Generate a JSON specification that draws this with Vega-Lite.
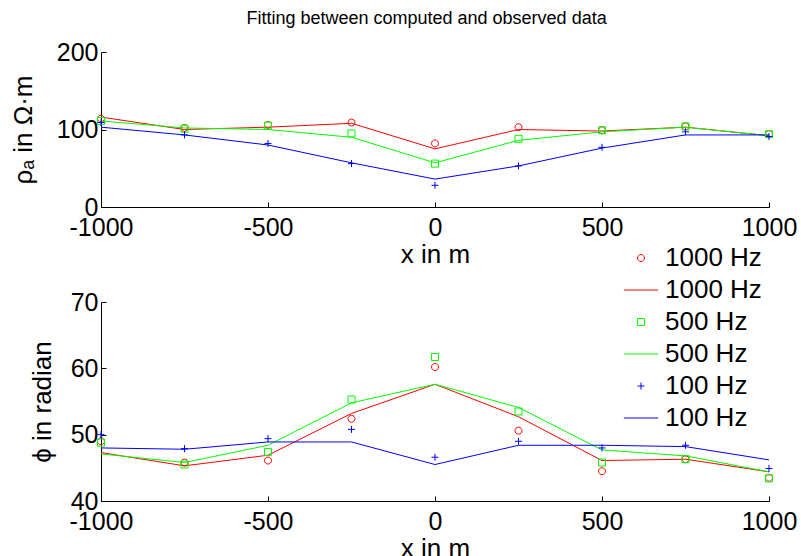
{
  "$schema": "https://vega.github.io/schema/vega-lite/v6.json",
  "padding": {"left": 10, "top": 10, "right": 5, "bottom": 5},
  "background": "white",
  "title": {"text": "Fitting between computed and observed data", "font": "Liberation Sans", "fontSize": 18, "fontWeight": "normal", "color": "#000", "anchor": "middle", "offset": 12, "dx": 23},
  "config": {
    "view": {"stroke": null},
    "axis": {"domainColor": "#000", "tickColor": "#000", "labelFont": "Liberation Sans", "labelFontSize": 25, "labelColor": "#000", "titleFont": "Liberation Sans", "titleFontSize": 26, "titleFontWeight": "normal", "titleColor": "#000", "grid": false, "tickSize": -5, "labelPadding": 13, "labelFlush": false},
    "legend": {"orient": "none", "legendX": 527, "legendY": 193, "title": null, "labelFont": "Liberation Sans", "labelFontSize": 26, "labelColor": "#000", "symbolSize": 49, "symbolStrokeWidth": 1, "padding": 0, "rowPadding": 6, "labelOffset": 11}
  },
  "datasets": {
    "rho": [
      {"x": -1000, "series": "o1000", "kind": "obs", "value": 114},
      {"x": -750, "series": "o1000", "kind": "obs", "value": 102},
      {"x": -500, "series": "o1000", "kind": "obs", "value": 106},
      {"x": -250, "series": "o1000", "kind": "obs", "value": 109},
      {"x": 0, "series": "o1000", "kind": "obs", "value": 82},
      {"x": 250, "series": "o1000", "kind": "obs", "value": 103},
      {"x": 500, "series": "o1000", "kind": "obs", "value": 99},
      {"x": 750, "series": "o1000", "kind": "obs", "value": 104},
      {"x": 1000, "series": "o1000", "kind": "obs", "value": 94},
      {"x": -1000, "series": "c1000", "kind": "comp", "value": 116},
      {"x": -750, "series": "c1000", "kind": "comp", "value": 100},
      {"x": -500, "series": "c1000", "kind": "comp", "value": 103},
      {"x": -250, "series": "c1000", "kind": "comp", "value": 108},
      {"x": 0, "series": "c1000", "kind": "comp", "value": 75},
      {"x": 250, "series": "c1000", "kind": "comp", "value": 100},
      {"x": 500, "series": "c1000", "kind": "comp", "value": 98},
      {"x": 750, "series": "c1000", "kind": "comp", "value": 103},
      {"x": 1000, "series": "c1000", "kind": "comp", "value": 92},
      {"x": -1000, "series": "o500", "kind": "obs", "value": 111},
      {"x": -750, "series": "o500", "kind": "obs", "value": 101},
      {"x": -500, "series": "o500", "kind": "obs", "value": 105},
      {"x": -250, "series": "o500", "kind": "obs", "value": 95},
      {"x": 0, "series": "o500", "kind": "obs", "value": 56},
      {"x": 250, "series": "o500", "kind": "obs", "value": 88},
      {"x": 500, "series": "o500", "kind": "obs", "value": 99},
      {"x": 750, "series": "o500", "kind": "obs", "value": 104},
      {"x": 1000, "series": "o500", "kind": "obs", "value": 94},
      {"x": -1000, "series": "c500", "kind": "comp", "value": 111},
      {"x": -750, "series": "c500", "kind": "comp", "value": 102},
      {"x": -500, "series": "c500", "kind": "comp", "value": 100},
      {"x": -250, "series": "c500", "kind": "comp", "value": 90},
      {"x": 0, "series": "c500", "kind": "comp", "value": 57},
      {"x": 250, "series": "c500", "kind": "comp", "value": 86},
      {"x": 500, "series": "c500", "kind": "comp", "value": 97},
      {"x": 750, "series": "c500", "kind": "comp", "value": 103},
      {"x": 1000, "series": "c500", "kind": "comp", "value": 92},
      {"x": -1000, "series": "o100", "kind": "obs", "value": 109},
      {"x": -750, "series": "o100", "kind": "obs", "value": 93},
      {"x": -500, "series": "o100", "kind": "obs", "value": 82},
      {"x": -250, "series": "o100", "kind": "obs", "value": 56},
      {"x": 0, "series": "o100", "kind": "obs", "value": 28},
      {"x": 250, "series": "o100", "kind": "obs", "value": 53},
      {"x": 500, "series": "o100", "kind": "obs", "value": 77},
      {"x": 750, "series": "o100", "kind": "obs", "value": 97},
      {"x": 1000, "series": "o100", "kind": "obs", "value": 91},
      {"x": -1000, "series": "c100", "kind": "comp", "value": 103},
      {"x": -750, "series": "c100", "kind": "comp", "value": 93},
      {"x": -500, "series": "c100", "kind": "comp", "value": 80},
      {"x": -250, "series": "c100", "kind": "comp", "value": 57},
      {"x": 0, "series": "c100", "kind": "comp", "value": 36},
      {"x": 250, "series": "c100", "kind": "comp", "value": 53},
      {"x": 500, "series": "c100", "kind": "comp", "value": 76},
      {"x": 750, "series": "c100", "kind": "comp", "value": 93},
      {"x": 1000, "series": "c100", "kind": "comp", "value": 93}
    ],
    "phi": [
      {"x": -1000, "series": "o1000", "kind": "obs", "value": 49.0},
      {"x": -750, "series": "o1000", "kind": "obs", "value": 45.8},
      {"x": -500, "series": "o1000", "kind": "obs", "value": 46.1},
      {"x": -250, "series": "o1000", "kind": "obs", "value": 52.4},
      {"x": 0, "series": "o1000", "kind": "obs", "value": 60.2},
      {"x": 250, "series": "o1000", "kind": "obs", "value": 50.6},
      {"x": 500, "series": "o1000", "kind": "obs", "value": 44.5},
      {"x": 750, "series": "o1000", "kind": "obs", "value": 46.3},
      {"x": 1000, "series": "o1000", "kind": "obs", "value": 43.5},
      {"x": -1000, "series": "c1000", "kind": "comp", "value": 47.3},
      {"x": -750, "series": "c1000", "kind": "comp", "value": 45.3},
      {"x": -500, "series": "c1000", "kind": "comp", "value": 46.9},
      {"x": -250, "series": "c1000", "kind": "comp", "value": 53.2},
      {"x": 0, "series": "c1000", "kind": "comp", "value": 57.6},
      {"x": 250, "series": "c1000", "kind": "comp", "value": 52.7},
      {"x": 500, "series": "c1000", "kind": "comp", "value": 46.1},
      {"x": 750, "series": "c1000", "kind": "comp", "value": 46.3},
      {"x": 1000, "series": "c1000", "kind": "comp", "value": 44.4},
      {"x": -1000, "series": "o500", "kind": "obs", "value": 48.8},
      {"x": -750, "series": "o500", "kind": "obs", "value": 45.5},
      {"x": -500, "series": "o500", "kind": "obs", "value": 47.4},
      {"x": -250, "series": "o500", "kind": "obs", "value": 55.3},
      {"x": 0, "series": "o500", "kind": "obs", "value": 61.7},
      {"x": 250, "series": "o500", "kind": "obs", "value": 53.5},
      {"x": 500, "series": "o500", "kind": "obs", "value": 45.8},
      {"x": 750, "series": "o500", "kind": "obs", "value": 46.3},
      {"x": 1000, "series": "o500", "kind": "obs", "value": 43.4},
      {"x": -1000, "series": "c500", "kind": "comp", "value": 47.1},
      {"x": -750, "series": "c500", "kind": "comp", "value": 45.8},
      {"x": -500, "series": "c500", "kind": "comp", "value": 48.4},
      {"x": -250, "series": "c500", "kind": "comp", "value": 54.8},
      {"x": 0, "series": "c500", "kind": "comp", "value": 57.6},
      {"x": 250, "series": "c500", "kind": "comp", "value": 54.1},
      {"x": 500, "series": "c500", "kind": "comp", "value": 47.7},
      {"x": 750, "series": "c500", "kind": "comp", "value": 46.8},
      {"x": 1000, "series": "c500", "kind": "comp", "value": 44.4},
      {"x": -1000, "series": "o100", "kind": "obs", "value": 50.0},
      {"x": -750, "series": "o100", "kind": "obs", "value": 47.9},
      {"x": -500, "series": "o100", "kind": "obs", "value": 49.4},
      {"x": -250, "series": "o100", "kind": "obs", "value": 50.8},
      {"x": 0, "series": "o100", "kind": "obs", "value": 46.6},
      {"x": 250, "series": "o100", "kind": "obs", "value": 49.0},
      {"x": 500, "series": "o100", "kind": "obs", "value": 48.0},
      {"x": 750, "series": "o100", "kind": "obs", "value": 48.4},
      {"x": 1000, "series": "o100", "kind": "obs", "value": 44.9},
      {"x": -1000, "series": "c100", "kind": "comp", "value": 48.0},
      {"x": -750, "series": "c100", "kind": "comp", "value": 47.8},
      {"x": -500, "series": "c100", "kind": "comp", "value": 48.9},
      {"x": -250, "series": "c100", "kind": "comp", "value": 48.9},
      {"x": 0, "series": "c100", "kind": "comp", "value": 45.5},
      {"x": 250, "series": "c100", "kind": "comp", "value": 48.4},
      {"x": 500, "series": "c100", "kind": "comp", "value": 48.4},
      {"x": 750, "series": "c100", "kind": "comp", "value": 48.2},
      {"x": 1000, "series": "c100", "kind": "comp", "value": 46.2}
    ]
  },
  "spacing": 23,
  "vconcat": [
    {
      "width": 668,
      "height": 155,
      "data": {"name": "rho"},
      "layer": [
        {
          "transform": [{"filter": "datum.kind == 'comp'"}],
          "mark": {"type": "line", "strokeWidth": 1},
          "encoding": {
            "x": {"field": "x", "type": "quantitative", "scale": {"domain": [-1000, 1000], "nice": false}, "axis": {"values": [-1000, -500, 0, 500, 1000], "title": "x in m", "labelExpr": "'' + datum.value", "titlePadding": 1}},
            "y": {"field": "value", "type": "quantitative", "scale": {"domain": [0, 200], "nice": false}, "axis": {"values": [0, 100, 200], "title": "ρₐ in Ω·m", "titlePadding": 20, "labelPadding": 8}},
            "color": {"field": "series", "type": "nominal", "scale": {"domain": ["o1000", "c1000", "o500", "c500", "o100", "c100"], "range": ["#ff0000", "#ff0000", "#00ff00", "#00ff00", "#0000ff", "#0000ff"]}, "legend": {"labelExpr": "substring(datum.label, 1) + ' Hz'"}},
            "detail": {"field": "series"}
          }
        },
        {
          "transform": [{"filter": "datum.kind == 'obs'"}],
          "mark": {"type": "point", "filled": false, "size": 49, "strokeWidth": 1, "opacity": 1},
          "encoding": {
            "x": {"field": "x", "type": "quantitative"},
            "y": {"field": "value", "type": "quantitative"},
            "color": {"field": "series", "type": "nominal"},
            "shape": {"field": "series", "type": "nominal", "scale": {"domain": ["o1000", "c1000", "o500", "c500", "o100", "c100"], "range": ["M1,0A1,1,0,1,1,-1,0A1,1,0,1,1,1,0Z", "M-4.9,0H4.9", "M-1,-1H1V1H-1Z", "M-4.9,0H4.9", "M-1,0H1M0,-1V1", "M-4.9,0H4.9"]}, "legend": {"labelExpr": "substring(datum.label, 1) + ' Hz'"}}
          }
        }
      ]
    },
    {
      "width": 668,
      "height": 199,
      "data": {"name": "phi"},
      "layer": [
        {
          "transform": [{"filter": "datum.kind == 'comp'"}],
          "mark": {"type": "line", "strokeWidth": 1},
          "encoding": {
            "x": {"field": "x", "type": "quantitative", "scale": {"domain": [-1000, 1000], "nice": false}, "axis": {"values": [-1000, -500, 0, 500, 1000], "title": "x in m", "labelExpr": "'' + datum.value", "titlePadding": 1}},
            "y": {"field": "value", "type": "quantitative", "scale": {"domain": [40, 70], "nice": false, "zero": false}, "axis": {"values": [40, 50, 60, 70], "title": "ϕ in radian", "titlePadding": 15, "labelPadding": 8}},
            "color": {"field": "series", "type": "nominal"},
            "detail": {"field": "series"}
          }
        },
        {
          "transform": [{"filter": "datum.kind == 'obs'"}],
          "mark": {"type": "point", "filled": false, "size": 49, "strokeWidth": 1, "opacity": 1},
          "encoding": {
            "x": {"field": "x", "type": "quantitative"},
            "y": {"field": "value", "type": "quantitative"},
            "color": {"field": "series", "type": "nominal"},
            "shape": {"field": "series", "type": "nominal"}
          }
        }
      ]
    }
  ]
}
